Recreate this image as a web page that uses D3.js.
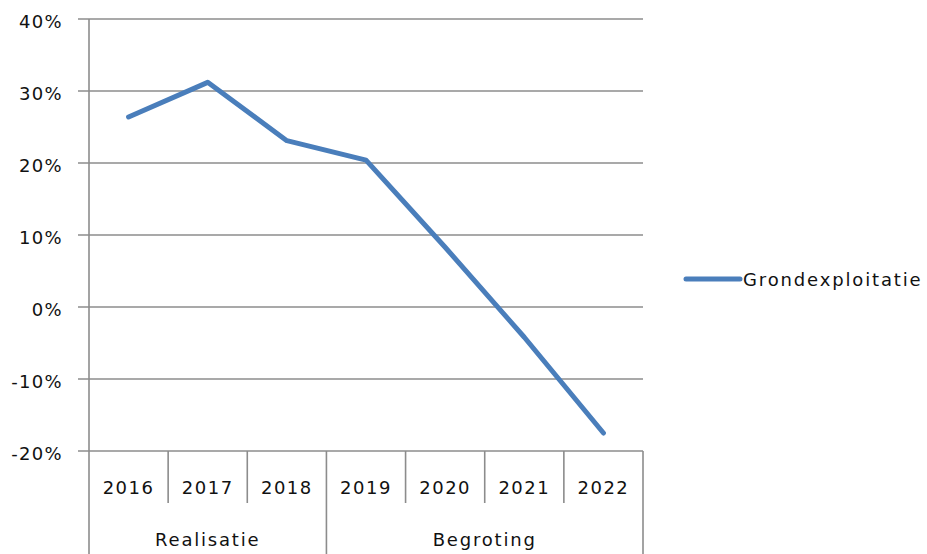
<!DOCTYPE html>
<html><head><meta charset="utf-8">
<script src="https://cdn.jsdelivr.net/npm/d3@7"></script>
<style>body{margin:0;background:#fff}text{font-family:"DejaVu Sans",Verdana,sans-serif;fill:#111}</style>
</head><body>
<svg id="c" width="927" height="554"></svg>
<script>
const years = ["2016","2017","2018","2019","2020","2021","2022"];
const groups = [{name:"Realisatie", from:0, to:3},{name:"Begroting", from:3, to:7}];
const values = [26.4, 31.2, 23.1, 20.4, 8.3, -4.2, -17.5];
const yTicks = [-20,-10,0,10,20,30,40];
const seriesName = "Grondexploitatie";

const svg = d3.select("#c");
const pLeft = 89, pRight = 643, pTop = 19, pBottom = 451;
const x = d3.scaleBand().domain(years).range([pLeft, pRight]).padding(0);
const y = d3.scaleLinear().domain([-20, 40]).range([pBottom, pTop]);
const grid = "#8c8c8c";

// gridlines
svg.append("g").selectAll("line").data(yTicks).join("line")
  .attr("x1", pLeft - 11).attr("x2", pRight)
  .attr("y1", d => y(d)).attr("y2", d => y(d))
  .attr("stroke", grid).attr("stroke-width", 1.6);

// y labels
svg.append("g").selectAll("text").data(yTicks).join("text")
  .attr("x", 63).attr("y", d => y(d) + 8.5)
  .attr("text-anchor", "end").attr("font-size", 18).attr("letter-spacing", 1.3)
  .text(d => d + "%");

// y axis line
svg.append("line").attr("x1", pLeft).attr("x2", pLeft).attr("y1", pTop).attr("y2", 554)
  .attr("stroke", grid).attr("stroke-width", 1.6);

// year separators
const boundaries = d3.range(1, years.length + 1);
svg.append("g").selectAll("line").data(boundaries).join("line")
  .attr("x1", i => x.step() * i + pLeft).attr("x2", i => x.step() * i + pLeft)
  .attr("y1", pBottom)
  .attr("y2", i => groups.some(g => g.to === i) ? 554 : 503)
  .attr("stroke", grid).attr("stroke-width", 1.6);

// year labels
svg.append("g").selectAll("text").data(years).join("text")
  .attr("x", d => x(d) + x.bandwidth() / 2).attr("y", 494)
  .attr("text-anchor", "middle").attr("font-size", 18).attr("letter-spacing", 1.5)
  .text(d => d);

// group labels
svg.append("g").selectAll("text").data(groups).join("text")
  .attr("x", g => pLeft + x.step() * (g.from + g.to) / 2).attr("y", 546)
  .attr("text-anchor", "middle").attr("font-size", 18).attr("letter-spacing", 1.8)
  .text(g => g.name);

// line
const line = d3.line().x((d, i) => x(years[i]) + x.bandwidth() / 2).y(d => y(d));
svg.append("path").datum(values).attr("d", line)
  .attr("fill", "none").attr("stroke", "#4a7ebb").attr("stroke-width", 5)
  .attr("stroke-linejoin", "round").attr("stroke-linecap", "round");

// legend
svg.append("line").attr("x1", 686).attr("x2", 740).attr("y1", 279).attr("y2", 279)
  .attr("stroke", "#4a7ebb").attr("stroke-width", 5).attr("stroke-linecap", "round");
svg.append("text").attr("x", 743).attr("y", 286).attr("font-size", 18).attr("letter-spacing", 1.85)
  .text(seriesName);
</script>
</body></html>
